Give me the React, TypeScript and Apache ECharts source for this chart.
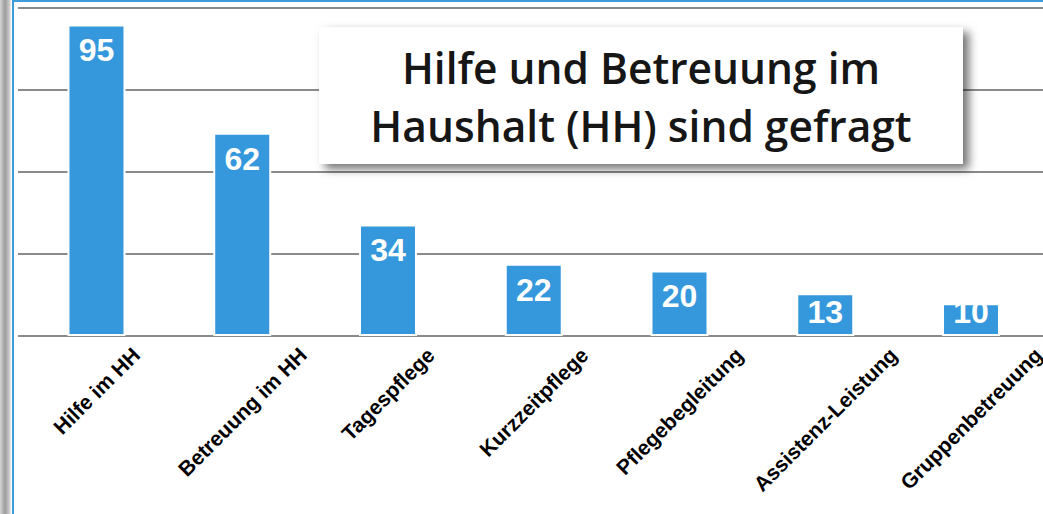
import React, { useEffect, useRef } from 'react';
import * as echarts from 'echarts';

const categories = [
  'Hilfe im HH',
  'Betreuung im HH',
  'Tagespflege',
  'Kurzzeitpflege',
  'Pflegebegleitung',
  'Assistenz-Leistung',
  'Gruppenbetreuung',
];
const values = [95, 62, 34, 22, 20, 13, 10];
const yMin = 0;
const yMax = 100;
const yStep = 25;
const titleLines = ['Hilfe und Betreuung im', 'Haushalt (HH) sind gefragt'];

const W = 1043;
const H = 514;
const AXIS_Y = 336;
const LABEL_FS = 21;
const LABEL_FONT_FAMILY = 'Liberation Sans';
const LABEL_MARGIN = 4;
const LABEL_INK_TOP = 345;
const BAR_COLOR = '#3598dc';
const GRID_COLOR = '#8a8a8a';

function measure(text: string, font: string): number {
  const ctx = document.createElement('canvas').getContext('2d');
  if (!ctx) return text.length * 10;
  ctx.font = font;
  return ctx.measureText(text).width;
}

export default function App() {
  const ref = useRef<HTMLDivElement>(null);

  useEffect(() => {
    if (!ref.current) return;
    const chart = echarts.init(ref.current, undefined, { renderer: 'svg' });

    const font = `bold ${LABEL_FS}px "${LABEL_FONT_FAMILY}"`;
    const rich: Record<string, any> = {};
    categories.forEach((c, i) => {
      const L = measure(c, font);
      const y0 = AXIS_Y + LABEL_MARGIN;
      const s = LABEL_INK_TOP - y0 + 0.3536 * (L + 0.85 * LABEL_FS);
      const p = Math.max(0, 1.4142 * s);
      rich['l' + i] = {
        padding: [p, p, 0, 0],
        fontSize: LABEL_FS,
        fontWeight: 'bold',
        fontFamily: LABEL_FONT_FAMILY,
        color: '#000',
      };
    });

    const barData = values.map((v) =>
      v < 16
        ? { value: v, label: { position: 'insideBottom', distance: 8 } }
        : { value: v }
    );

    const option: any = {
      animation: false,
      backgroundColor: '#fff',
      grid: [
        { left: 18, right: 0, top: 8, bottom: H - AXIS_Y, containLabel: false, outerBoundsMode: 'none' },
        { left: 23.6, width: 1020.3, top: 8, bottom: H - AXIS_Y, containLabel: false, outerBoundsMode: 'none' },
      ],
      xAxis: [
        { gridIndex: 0, type: 'value', min: 0, max: 1, show: false },
        {
          gridIndex: 1,
          type: 'category',
          data: categories,
          axisLine: { show: false },
          axisTick: { show: false },
          splitLine: { show: false },
          axisLabel: {
            show: true,
            interval: 0,
            rotate: 45,
            align: 'center',
            verticalAlign: 'middle',
            margin: LABEL_MARGIN,
            hideOverlap: false,
            fontSize: LABEL_FS,
            fontWeight: 'bold',
            fontFamily: LABEL_FONT_FAMILY,
            color: '#000',
            formatter: (val: string, idx: number) => `{l${idx}|${val}}`,
            rich,
          },
        },
      ],
      yAxis: [
        {
          gridIndex: 0,
          type: 'value',
          min: yMin,
          max: yMax,
          interval: yStep,
          axisLine: { show: false },
          axisTick: { show: false },
          axisLabel: { show: false },
          splitLine: { show: true, lineStyle: { color: GRID_COLOR, width: 2 } },
        },
        { gridIndex: 1, type: 'value', min: yMin, max: yMax, show: false, splitLine: { show: false } },
      ],
      series: [
        {
          type: 'bar',
          xAxisIndex: 1,
          yAxisIndex: 1,
          data: barData,
          barWidth: 58,
          itemStyle: { color: BAR_COLOR, borderColor: '#fff', borderWidth: 2 },
          label: {
            show: true,
            position: 'insideTop',
            distance: 10,
            color: '#fff',
            fontSize: 32,
            fontWeight: 'bold',
            fontFamily: LABEL_FONT_FAMILY,
          },
        },
      ],
      graphic: [
        {
          type: 'rect',
          z: 100,
          shape: { x: 0, y: 0, width: 11, height: H },
          style: {
            fill: new echarts.graphic.LinearGradient(0, 0, 1, 0, [
              { offset: 0, color: '#d6d6d6' },
              { offset: 0.45, color: '#9c9c9c' },
              { offset: 0.8, color: '#c4c4c4' },
              { offset: 1, color: '#ececec' },
            ]),
          },
        },
        { type: 'rect', z: 100, shape: { x: 12, y: 0, width: 2, height: H }, style: { fill: '#3f9ad8' } },
        { type: 'rect', z: 100, shape: { x: 12, y: 0, width: W - 12, height: 2 }, style: { fill: '#3f9ad8' } },
        {
          type: 'rect',
          z: 100,
          shape: { x: 319, y: 27, width: 644, height: 137 },
          style: {
            fill: '#fff',
            shadowBlur: 10,
            shadowOffsetX: 6,
            shadowOffsetY: 5,
            shadowColor: 'rgba(0,0,0,0.55)',
          },
        },
        {
          type: 'text',
          z: 101,
          x: 641,
          y: 96,
          style: {
            text: titleLines.join('\n'),
            fontFamily: 'Open Sans',
            fontWeight: 600,
            fontSize: 42.5,
            lineHeight: 58,
            fill: '#161616',
            align: 'center',
            verticalAlign: 'middle',
          },
        },
      ],
    };

    chart.setOption(option);
    return () => chart.dispose();
  }, []);

  return (
    <div
      ref={ref}
      style={{ position: 'absolute', left: 0, top: 0, width: W, height: H, background: '#fff' }}
    />
  );
}
